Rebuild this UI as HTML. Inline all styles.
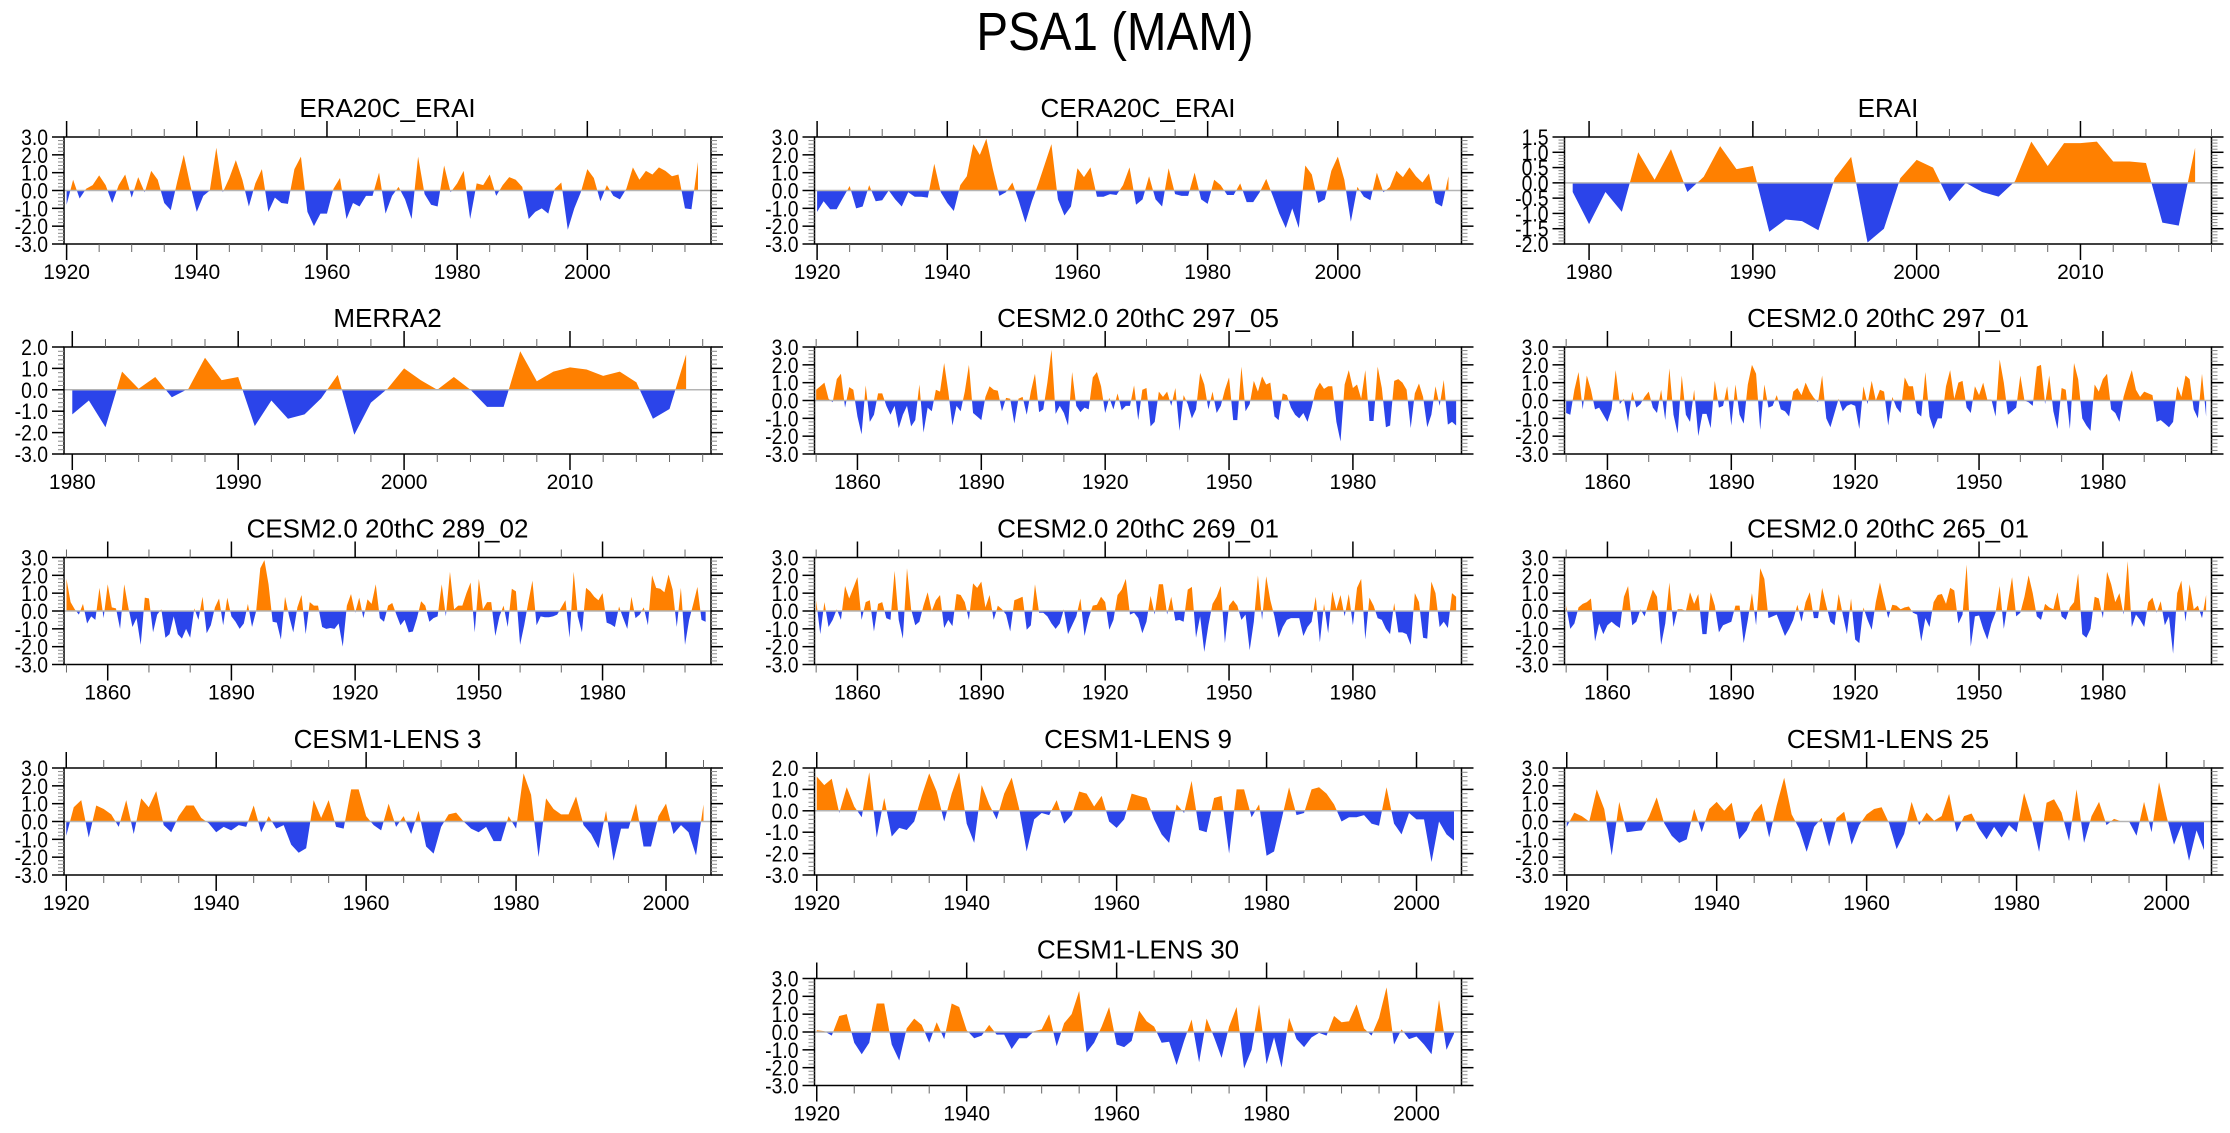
<!DOCTYPE html>
<html>
<head>
<meta charset="utf-8">
<style>
  html, body { margin: 0; padding: 0; background: #ffffff; }
  svg { display: block; font-family: "Liberation Sans", "DejaVu Sans", sans-serif; }
</style>
</head>
<body>
<svg id="chart" width="2230" height="1133" viewBox="0 0 2230 1133" xmlns="http://www.w3.org/2000/svg">
  <text transform="translate(1115,50) scale(0.88,1)" text-anchor="middle" font-size="54" fill="#000">PSA1 (MAM)</text>
</svg>
<script>
// ---------- DATA ----------
const era20cErai = [-0.8,0.6,-0.45,0.1,0.3,0.85,0.3,-0.7,0.3,0.9,-0.4,0.75,-0.1,1.1,0.6,-0.7,-1.1,0.5,2.0,0.3,-1.2,-0.3,0.0,2.4,-0.1,0.7,1.7,0.6,-0.9,0.4,1.2,-1.2,-0.4,-0.7,-0.75,1.2,1.9,-1.2,-2.0,-1.3,-1.3,0.1,0.7,-1.6,-0.7,-0.9,-0.3,-0.3,1.0,-1.3,-0.3,0.2,-0.5,-1.6,1.9,-0.2,-0.8,-0.9,1.4,-0.1,0.4,1.1,-1.6,0.4,0.3,0.9,-0.3,0.3,0.75,0.6,0.2,-1.6,-1.2,-1.0,-1.3,0.1,0.45,-2.2,-1.0,-0.1,1.2,0.7,-0.6,0.3,-0.3,-0.5,0.1,1.3,0.6,1.1,0.9,1.3,1.1,0.8,0.9,-1.0,-1.05,1.6];
const cera20cErai = [-1.2,-0.6,-1.05,-1.05,-0.4,0.25,-1.0,-0.9,0.3,-0.6,-0.55,0.0,-0.5,-0.9,-0.1,-0.35,-0.35,-0.4,1.5,-0.1,-0.7,-1.15,0.3,0.8,2.6,2.0,2.9,1.2,-0.3,-0.1,0.45,-0.6,-1.8,-0.6,0.4,1.5,2.6,-0.5,-1.4,-0.9,1.25,0.75,1.3,-0.35,-0.35,-0.2,-0.25,0.3,1.3,-0.8,-0.5,0.8,-0.5,-0.9,1.25,-0.2,-0.3,-0.3,1.0,-0.5,-0.75,0.6,0.3,-0.25,-0.25,0.4,-0.65,-0.65,-0.1,0.65,-0.3,-1.3,-2.1,-1.0,-2.1,1.4,0.9,-0.7,-0.5,1.1,1.9,0.6,-1.75,0.2,-0.35,-0.55,1.0,-0.1,0.2,1.1,0.75,1.3,0.8,0.45,0.95,-0.7,-0.9,0.8];
const erai = [-0.3,-1.35,-0.3,-0.95,1.0,0.1,1.1,-0.3,0.2,1.2,0.45,0.55,-1.6,-1.2,-1.25,-1.55,0.15,0.85,-1.95,-1.5,0.15,0.75,0.5,-0.6,0.0,-0.3,-0.45,0.05,1.35,0.55,1.3,1.3,1.35,0.7,0.7,0.65,-1.3,-1.4,1.15];
const merra2 = [-1.15,-0.5,-1.75,0.85,0.05,0.6,-0.35,0.05,1.5,0.45,0.6,-1.7,-0.5,-1.35,-1.15,-0.4,0.7,-2.1,-0.6,0.05,1.0,0.45,0.0,0.6,0.0,-0.8,-0.8,1.8,0.4,0.85,1.05,0.95,0.65,0.85,0.35,-1.35,-0.9,1.65];
const cesm297_05 = [0.6,0.8,1.0,0.1,-0.1,1.2,1.5,-0.4,0.75,0.6,-0.9,-1.9,0.85,-1.2,-0.8,0.4,0.4,-0.3,-0.8,-0.3,-1.55,-0.8,-0.3,-1.45,-1.1,0.9,-1.8,-0.4,-0.6,0.6,0.5,2.1,0.5,-1.4,-0.3,-0.6,0.5,2.0,-0.7,-0.9,-1.1,0.2,0.8,0.6,0.55,-0.6,0.15,0.1,-1.3,0.1,0.2,-0.8,0.5,1.5,-0.65,-0.5,1.0,2.85,-0.75,-0.3,-0.7,-1.4,1.6,-0.3,-0.65,-0.4,-0.5,1.3,1.6,0.8,-0.7,0.15,-0.5,0.4,-0.55,-0.3,-0.3,0.85,-1.1,0.6,0.7,-1.45,-1.2,0.5,0.2,0.5,-0.3,0.7,-1.7,0.3,-0.2,-1.0,-0.5,1.55,0.9,-0.5,0.5,-0.7,-0.3,0.6,1.3,-1.1,-1.1,1.9,-0.6,-0.2,1.1,0.5,1.35,0.9,1.0,-0.9,-1.1,0.4,0.3,-0.4,-0.8,-1.0,-0.7,-1.2,-0.4,0.6,1.0,0.65,0.8,0.8,-1.2,-2.3,0.9,1.7,0.7,0.9,0.1,1.7,-1.15,-1.15,1.9,0.7,-1.5,-1.4,1.1,1.2,1.0,0.6,-1.55,0.4,0.95,0.2,-1.5,-0.8,0.8,-0.3,1.15,-1.35,-1.2,-1.4];
const cesm297_01 = [-0.7,-0.8,0.6,1.6,-0.5,1.4,0.6,-0.5,-0.4,-0.8,-1.2,-0.5,1.7,-0.2,0.1,-1.2,0.5,-0.4,-0.2,0.2,0.5,-0.4,-0.7,0.6,-1.1,1.8,-0.8,-1.85,1.4,-0.8,-1.2,0.6,-2.0,-0.75,-0.75,-1.55,1.1,-0.4,-0.3,0.8,-1.4,0.9,-0.8,-1.3,0.9,2.0,1.5,-1.65,0.9,-0.4,-0.3,0.3,-0.5,-0.6,-0.9,0.5,0.7,0.3,1.0,0.5,0.15,-0.1,1.4,-1.0,-1.5,-0.7,0.1,-0.6,-0.3,-0.2,-0.3,-1.6,0.8,-0.2,1.1,0.0,0.6,0.5,-1.4,0.2,-0.4,-0.7,1.3,0.8,0.8,-0.7,-0.9,1.6,-0.9,-1.6,-1.0,-1.0,0.8,1.7,0.1,1.0,1.1,-0.4,-0.7,0.8,0.3,1.0,0.05,0.05,-0.9,2.3,1.0,-0.8,-0.6,-0.4,1.4,0.0,-0.1,-0.3,1.9,2.0,-0.2,1.4,-0.6,-1.6,0.7,0.6,-1.6,2.1,1.2,-1.0,-1.4,-1.7,0.9,0.5,1.2,1.5,-0.5,-0.7,-1.2,0.2,1.0,1.7,0.6,0.2,0.5,0.4,0.3,-1.2,-1.1,-1.3,-1.5,-1.2,0.8,0.2,1.4,1.2,-0.5,-1.0,1.5,-0.9];
const cesm289_02 = [1.8,0.5,0.1,-0.2,0.4,-0.7,-0.3,-0.5,1.3,-0.4,1.5,0.2,0.15,-1.0,1.5,0.2,-0.9,-0.4,-1.9,0.75,0.7,-1.2,-0.2,0.1,-1.5,-1.3,-0.3,-1.3,-1.55,-1.0,-1.5,0.15,-0.5,0.8,-1.25,-0.8,0.2,0.7,-0.8,0.75,-0.3,-0.6,-1.0,-0.7,0.4,-0.9,0.0,2.4,2.85,1.5,-0.6,-0.65,-1.6,0.8,-0.3,-1.2,0.2,0.9,-1.3,0.5,0.3,0.3,-0.9,-1.0,-0.95,-1.0,-0.7,-2.0,0.3,0.95,-0.1,0.75,-0.4,0.65,0.4,1.5,-0.4,-0.6,0.3,0.45,-0.2,-0.8,-0.5,-1.2,-1.15,-0.4,0.55,0.3,-0.6,-0.4,-0.3,1.5,-0.3,2.2,0.1,0.3,0.3,1.0,1.6,-1.2,1.8,0.1,0.5,0.5,-1.4,-0.3,0.3,-0.9,1.25,1.1,-1.9,-0.8,0.5,1.7,-0.8,-0.3,-0.35,-0.35,-0.3,-0.2,0.2,0.6,-1.5,2.2,-0.3,-1.2,1.3,1.1,0.8,0.6,1.0,-0.65,-0.75,-0.9,0.25,-0.4,-1.0,0.8,-0.4,-0.2,0.2,-0.8,2.0,1.3,1.25,1.05,2.05,1.2,-0.9,1.3,-1.9,-0.5,0.4,1.35,-0.5,-0.6];
const cesm269_01 = [0.6,-1.3,0.5,-0.9,-0.5,0.1,-0.5,1.4,0.7,1.3,1.9,-0.5,0.5,0.6,-1.15,0.4,0.5,-0.4,-0.5,2.25,-0.5,-1.55,2.4,0.1,-0.8,-0.6,0.3,1.05,0.0,0.6,0.9,-0.95,-0.5,-0.85,0.95,0.9,0.5,-0.5,1.55,1.3,1.65,0.2,0.9,-0.5,0.3,0.1,-0.2,-1.15,0.6,0.7,0.8,-1.05,-0.8,1.5,-0.1,-0.1,-0.3,-0.7,-1.0,-0.7,0.1,-1.3,-0.8,-0.3,0.7,-1.4,-0.4,0.3,0.35,0.8,0.5,-1.05,-0.5,0.9,1.2,1.8,-0.2,-0.1,-0.4,-1.25,-0.6,0.85,-0.2,1.5,1.5,-0.2,0.8,-0.55,-0.5,-0.6,1.2,1.35,-1.5,-0.3,-2.3,-0.8,0.4,0.8,1.4,-1.8,0.3,0.6,0.3,-0.5,-0.2,-2.2,-0.6,2.0,-0.5,1.95,0.6,-0.3,-1.5,-0.9,-0.5,-0.4,-0.4,-0.4,-1.4,-0.9,-0.6,0.8,-1.75,0.4,-1.25,1.1,0.1,0.9,-0.3,0.95,-0.8,1.3,1.8,-1.6,0.75,0.3,-0.4,-0.5,-1.0,-1.3,0.45,-1.2,-1.2,-1.3,-1.9,1.0,0.5,-1.5,-1.55,1.65,1.0,-0.9,-0.6,-0.95,1.0,0.8];
const cesm265_01 = [0.3,-1.0,-0.7,0.2,0.4,0.5,0.7,-1.7,-0.7,-1.3,-0.8,-0.6,-0.8,-0.95,0.8,1.4,-0.8,-0.6,0.1,-0.3,0.5,1.2,0.8,-1.9,-0.7,1.6,-0.9,0.1,0.1,0.0,1.05,0.4,0.95,-1.3,-1.3,1.05,0.3,-1.2,-0.8,-0.7,-0.6,0.3,0.3,-1.8,-0.5,1.0,-0.8,2.4,1.8,-0.4,-0.3,-0.2,-0.8,-1.4,-1.0,-0.5,0.35,-0.6,0.5,1.05,-0.4,-0.4,1.3,0.3,-0.6,-0.8,0.95,-0.2,-1.3,0.7,-1.6,-1.8,0.2,-0.5,-1.05,0.5,1.6,0.6,-0.4,0.35,0.3,0.1,0.2,0.25,-0.1,-0.2,-1.7,-0.4,-0.9,0.5,0.9,0.95,0.4,1.3,1.15,-0.7,-0.2,2.6,-2.0,-0.3,-0.25,-1.0,-1.6,-0.7,-0.1,1.4,-1.0,0.5,1.9,-0.3,-0.1,0.8,2.0,1.0,-0.3,-0.5,0.4,0.2,0.1,1.05,-0.3,-0.5,0.2,0.5,2.1,-1.3,-1.5,-1.0,0.8,0.7,-0.4,2.2,1.5,0.5,1.0,-0.2,2.8,-0.9,-0.2,-0.5,-0.9,0.5,0.75,-0.1,0.55,-0.8,-0.3,-2.4,1.0,1.7,-0.6,1.5,0.1,0.3,-0.4,0.9];
const lens3 = [-0.8,0.8,1.2,-0.9,0.9,0.7,0.4,-0.3,1.2,-0.7,1.3,0.8,1.7,-0.2,-0.6,0.3,0.9,0.9,0.2,-0.1,-0.6,-0.3,-0.5,-0.2,-0.3,0.9,-0.6,0.3,-0.4,-0.2,-1.3,-1.75,-1.5,1.2,0.2,1.2,-0.3,-0.4,1.8,1.8,0.3,-0.2,-0.5,1.0,-0.3,0.3,-0.7,0.6,-1.4,-1.8,-0.3,0.4,0.5,0.0,-0.4,-0.6,-0.3,-1.1,-1.1,0.3,-0.4,2.7,1.5,-2.0,1.3,0.7,0.4,0.4,1.4,-0.2,-0.7,-1.5,0.6,-2.2,-0.4,-0.4,1.0,-1.4,-1.4,0.3,1.0,-0.7,-0.2,-0.6,-1.9,0.95];
const lens9 = [1.6,1.2,1.5,-0.1,1.1,0.2,-0.3,1.8,-1.25,0.6,-1.2,-0.8,-0.9,-0.5,0.7,1.75,0.9,-0.5,0.8,1.8,-0.6,-1.5,1.2,0.3,-0.4,0.8,1.55,0.1,-1.9,-0.4,-0.1,-0.2,0.5,-0.6,-0.2,0.9,0.8,0.2,0.7,-0.5,-0.8,-0.4,0.8,0.7,0.6,-0.4,-1.1,-1.5,0.3,-0.1,1.4,-0.9,-1.0,0.6,0.7,-2.0,1.0,1.0,-0.3,0.3,-2.1,-1.9,-0.4,1.1,-0.2,-0.1,1.0,1.1,0.8,0.3,-0.5,-0.3,-0.3,-0.2,-0.6,-0.7,1.1,-0.6,-1.1,-0.1,-0.4,-0.4,-2.4,-0.5,-1.1,-1.4];
const lens25 = [-0.3,0.5,0.3,0.0,1.8,0.7,-1.9,1.1,-0.6,-0.55,-0.5,0.3,1.35,-0.1,-0.8,-1.2,-1.0,0.7,-0.6,0.7,1.1,0.6,1.05,-1.0,-0.5,0.5,1.0,-0.9,0.9,2.45,0.4,-0.4,-1.7,-0.3,0.2,-1.4,0.2,0.55,-1.3,-0.2,0.4,0.7,0.8,-0.1,-1.55,-0.7,1.1,-0.2,0.5,0.05,0.3,1.55,-0.6,0.3,0.45,-0.4,-1.0,-0.3,-0.9,-0.2,-0.6,1.6,0.2,-1.7,1.05,1.25,0.5,-1.1,1.8,-1.2,0.3,1.1,-0.2,0.15,0.0,0.0,-0.8,1.1,-0.6,2.2,0.3,-1.3,-0.2,-2.2,-0.5,-1.6];
const lens30 = [0.1,0.05,-0.2,0.9,1.0,-0.6,-1.25,-0.6,1.6,1.6,-0.7,-1.6,0.2,0.75,0.4,-0.6,0.55,-0.4,1.6,1.4,0.1,-0.35,-0.2,0.4,-0.15,-0.15,-0.95,-0.35,-0.35,0.05,0.15,1.0,-0.8,0.5,1.0,2.3,-1.15,-0.6,0.3,1.4,-0.7,-0.85,-0.5,1.2,0.6,0.3,-0.6,-0.55,-1.85,-0.5,0.7,-1.7,0.75,-0.3,-1.45,0.3,1.4,-2.05,-1.0,1.55,-1.8,-0.3,-2.0,0.8,-0.4,-0.85,-0.3,-0.05,-0.2,0.9,0.55,0.6,1.55,0.2,-0.2,0.8,2.5,-0.7,0.15,-0.4,-0.25,-0.7,-1.25,1.8,-1.0,-0.1];

// tick label arrays
const xLabels20 = [1920, 1940, 1960, 1980, 2000];
const xLabelsCesm = [1860, 1890, 1920, 1950, 1980];
const xLabelsDecade = [1980, 1990, 2000, 2010];
const yLabels3 = [-3, -2, -1, 0, 1, 2, 3];
const yLabels2 = [-3, -2, -1, 0, 1, 2];
const yLabelsErai = [-2, -1.5, -1, -0.5, 0, 0.5, 1, 1.5];

// ---------- LAYOUT ----------
const NS = 'http://www.w3.org/2000/svg';
const svg = document.getElementById('chart');
const colX = [64, 814.5, 1564.5];
const rowY = [137, 347, 557.5, 768, 978.5];
const PW = 647, PH = 107;
const ORANGE = '#ff8000', BLUE = '#2b44ea';

const panels = [
  {name:'ERA20C_ERAI', key:'era20c-erai', col:0, row:0, data:era20cErai, start:1920, xd:[1919.6,2019], xl:xLabels20, xmin:5, yd:[-3,3], yl:yLabels3, ymin:0.2},
  {name:'CERA20C_ERAI', key:'cera20c-erai', col:1, row:0, data:cera20cErai, start:1920, xd:[1919.6,2019], xl:xLabels20, xmin:5, yd:[-3,3], yl:yLabels3, ymin:0.2},
  {name:'ERAI', key:'erai', col:2, row:0, data:erai, start:1979, xd:[1978.5,2018], xl:xLabelsDecade, xmin:2, yd:[-2,1.5], yl:yLabelsErai, ymin:0.1},
  {name:'MERRA2', key:'merra2', col:0, row:1, data:merra2, start:1980, xd:[1979.5,2018.5], xl:xLabelsDecade, xmin:2, yd:[-3,2], yl:yLabels2, ymin:0.2},
  {name:'CESM2.0 20thC 297_05', key:'cesm2-297-05', col:1, row:1, data:cesm297_05, start:1850, xd:[1849.6,2006.3], xl:xLabelsCesm, xmin:10, yd:[-3,3], yl:yLabels3, ymin:0.2},
  {name:'CESM2.0 20thC 297_01', key:'cesm2-297-01', col:2, row:1, data:cesm297_01, start:1850, xd:[1849.6,2006.3], xl:xLabelsCesm, xmin:10, yd:[-3,3], yl:yLabels3, ymin:0.2},
  {name:'CESM2.0 20thC 289_02', key:'cesm2-289-02', col:0, row:2, data:cesm289_02, start:1850, xd:[1849.4,2006.3], xl:xLabelsCesm, xmin:10, yd:[-3,3], yl:yLabels3, ymin:0.2},
  {name:'CESM2.0 20thC 269_01', key:'cesm2-269-01', col:1, row:2, data:cesm269_01, start:1850, xd:[1849.6,2006.3], xl:xLabelsCesm, xmin:10, yd:[-3,3], yl:yLabels3, ymin:0.2},
  {name:'CESM2.0 20thC 265_01', key:'cesm2-265-01', col:2, row:2, data:cesm265_01, start:1850, xd:[1849.6,2006.3], xl:xLabelsCesm, xmin:10, yd:[-3,3], yl:yLabels3, ymin:0.2},
  {name:'CESM1-LENS 3', key:'cesm1-lens-3', col:0, row:3, data:lens3, start:1920, xd:[1919.7,2006], xl:xLabels20, xmin:5, yd:[-3,3], yl:yLabels3, ymin:0.2},
  {name:'CESM1-LENS 9', key:'cesm1-lens-9', col:1, row:3, data:lens9, start:1920, xd:[1919.7,2006], xl:xLabels20, xmin:5, yd:[-3,2], yl:yLabels2, ymin:0.2},
  {name:'CESM1-LENS 25', key:'cesm1-lens-25', col:2, row:3, data:lens25, start:1920, xd:[1919.7,2006], xl:xLabels20, xmin:5, yd:[-3,3], yl:yLabels3, ymin:0.2},
  {name:'CESM1-LENS 30', key:'cesm1-lens-30', col:1, row:4, data:lens30, start:1920, xd:[1919.7,2006], xl:xLabels20, xmin:5, yd:[-3,3], yl:yLabels3, ymin:0.2}
];

function mk(tag, attrs, parent) {
  const e = document.createElementNS(NS, tag);
  for (const k in attrs) e.setAttribute(k, attrs[k]);
  (parent || svg).appendChild(e);
  return e;
}

panels.forEach((p, pi) => {
  const L = colX[p.col], T = rowY[p.row], R = L + PW, B = T + PH;
  const xs = v => L + (v - p.xd[0]) / (p.xd[1] - p.xd[0]) * PW;
  const ys = v => B - (v - p.yd[0]) / (p.yd[1] - p.yd[0]) * PH;
  const g = mk('g', {});
  
  

  // title
  const t = mk('text', {x: L + PW / 2, y: T - 20, 'text-anchor': 'middle', 'font-size': 26, fill: '#000'}, g);
  t.textContent = p.name;
  
  

  // clip paths
  const y0 = ys(0);
  const defs = mk('defs', {}, g);
  const cpA = mk('clipPath', {id: 'ca' + pi}, defs);
  mk('rect', {x: L, y: T, width: PW, height: y0 - T}, cpA);
  const cpB = mk('clipPath', {id: 'cb' + pi}, defs);
  mk('rect', {x: L, y: y0, width: PW, height: B - y0}, cpB);

  let d = 'M' + xs(p.start).toFixed(2) + ',' + y0.toFixed(2);
  p.data.forEach((v, i) => { d += ' L' + xs(p.start + i).toFixed(2) + ',' + ys(v).toFixed(2); });
  d += ' L' + xs(p.start + p.data.length - 1).toFixed(2) + ',' + y0.toFixed(2) + ' Z';
  const pos = mk('path', {d: d, fill: ORANGE, 'clip-path': 'url(#ca' + pi + ')'}, g);
  
  
  const neg = mk('path', {d: d, fill: BLUE, 'clip-path': 'url(#cb' + pi + ')'}, g);
  
  

  // zero line
  const zl = mk('line', {x1: L, x2: R, y1: y0, y2: y0, stroke: '#b4b4b4', 'stroke-width': 1.5}, g);
  
  

  // frame
  const fr = mk('rect', {x: L, y: T, width: PW, height: PH, fill: 'none', stroke: '#000', 'stroke-width': 1.5}, g);
  
  

  // y ticks
  const yt = mk('g', {stroke: '#000', 'stroke-width': 1}, g);
  
  
  const nMin = Math.round((p.yd[1] - p.yd[0]) / p.ymin);
  for (let k = 0; k <= nMin; k++) {
    const yy = ys(p.yd[0] + k * p.ymin);
    mk('line', {x1: L - 6, x2: L, y1: yy, y2: yy, stroke: '#888'}, yt);
    mk('line', {x1: R, x2: R + 6, y1: yy, y2: yy, stroke: '#888'}, yt);
  }
  p.yl.forEach(v => {
    const yy = ys(v);
    mk('line', {x1: L - 12, x2: L, y1: yy, y2: yy, 'stroke-width': 1.5}, yt);
    mk('line', {x1: R, x2: R + 12, y1: yy, y2: yy, 'stroke-width': 1.5}, yt);
    const lb = mk('text', {transform: 'translate(' + (L - 16) + ',' + (yy + 8) + ') scale(0.88,1)', 'text-anchor': 'end', 'font-size': 22, fill: '#000', stroke: 'none'}, g);
    lb.textContent = v.toFixed(1);
    
    
  });

  // x ticks
  const xt = mk('g', {stroke: '#000', 'stroke-width': 1}, g);
  
  
  for (let yr = Math.ceil(p.xd[0] / p.xmin) * p.xmin; yr <= p.xd[1]; yr += p.xmin) {
    const xx = xs(yr);
    mk('line', {x1: xx, x2: xx, y1: T - 8, y2: T, stroke: '#666'}, xt);
    mk('line', {x1: xx, x2: xx, y1: B, y2: B + 8, stroke: '#666'}, xt);
  }
  p.xl.forEach(v => {
    const xx = xs(v);
    mk('line', {x1: xx, x2: xx, y1: T - 16, y2: T, 'stroke-width': 1.5}, xt);
    mk('line', {x1: xx, x2: xx, y1: B, y2: B + 16, 'stroke-width': 1.5}, xt);
    const lb = mk('text', {x: xx, y: B + 35, 'text-anchor': 'middle', 'font-size': 21, fill: '#000', stroke: 'none'}, g);
    lb.textContent = String(v);
    
    
  });
});
</script>
</body>
</html>
